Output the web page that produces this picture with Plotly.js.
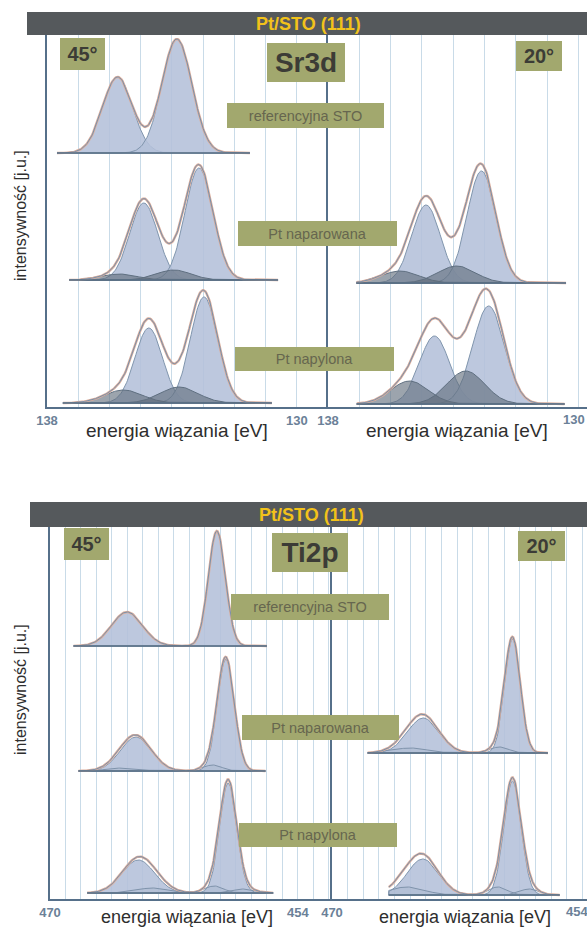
<!DOCTYPE html>
<html><head><meta charset="utf-8">
<script src="https://cdn.plot.ly/plotly-3.0.1.min.js"></script>
<style>html,body{margin:0;padding:0;background:#fff}#chart{width:587px;height:930px}</style>
</head><body><div id="chart"></div>
<script>
// ================= DATA =================
const headerText = 'Pt/STO (111)';
const panelNames = ['Sr3d', 'Ti2p'];
const angleLabels = ['45°', '20°'];
const sampleLabels = ['referencyjna STO', 'Pt naparowana', 'Pt napylona'];
const xTitleText = 'energia wiązania [eV]';
const yTitleText = 'intensywność [j.u.]';
const srTickLabels = [138, 130];
const tiTickLabels = [470, 454];

// Sr3d fitted components (centre eV, height a.u., sigma eV, kind M=main / m=minor), measured span
const srRef45Centre = [135.74, 133.84];
const srRef45Height = [76, 114];
const srRef45Sigma  = [0.48, 0.48];
const srRef45Kind   = ['M', 'M'];
const srRef45Span   = [137.7, 131.5];

const srNapar45Centre = [134.90, 133.13, 135.68, 133.94];
const srNapar45Height = [77, 112, 6, 10];
const srNapar45Sigma  = [0.45, 0.45, 0.55, 0.55];
const srNapar45Kind   = ['M', 'M', 'm', 'm'];
const srNapar45Span   = [137.3, 130.6];

const srNapar20Centre = [134.87, 133.10, 135.70, 133.89];
const srNapar20Height = [78, 112, 12, 17];
const srNapar20Sigma  = [0.46, 0.46, 0.6, 0.6];
const srNapar20Kind   = ['M', 'M', 'm', 'm'];
const srNapar20Span   = [137.1, 130.4];

const srNapyl45Centre = [134.74, 132.97, 135.55, 133.77];
const srNapyl45Height = [75, 106, 13, 16];
const srNapyl45Sigma  = [0.44, 0.44, 0.6, 0.6];
const srNapyl45Kind   = ['M', 'M', 'm', 'm'];
const srNapyl45Span   = [137.5, 130.8];

const srNapyl20Centre = [134.60, 132.87, 135.40, 133.60];
const srNapyl20Height = [68, 98, 23, 33];
const srNapyl20Sigma  = [0.48, 0.5, 0.6, 0.6];
const srNapyl20Kind   = ['M', 'M', 'm', 'm'];
const srNapyl20Span   = [137.1, 130.45];

// Ti2p fitted components
const tiRef45Centre = [465.03, 459.23];
const tiRef45Height = [34, 115];
const tiRef45Sigma  = [1.0, 0.55];
const tiRef45Kind   = ['M', 'M'];
const tiRef45Span   = [468.5, 456.0];

const tiNapar45Centre = [464.45, 458.65, 465.3, 459.5];
const tiNapar45Height = [34, 112, 3, 6];
const tiNapar45Sigma  = [1.0, 0.55, 1.0, 0.6];
const tiNapar45Kind   = ['M', 'M', 'm', 'm'];
const tiNapar45Span   = [468.2, 456.1];

const tiNapyl45Centre = [464.30, 458.50, 463.4, 459.4, 457.5];
const tiNapyl45Height = [33, 110, 5, 7, 4];
const tiNapyl45Sigma  = [1.05, 0.55, 1.0, 0.6, 0.7];
const tiNapyl45Kind   = ['M', 'M', 'm', 'm', 'm'];
const tiNapyl45Span   = [467.6, 455.6];

const tiNapar20Centre = [464.17, 458.46, 465.0, 459.3];
const tiNapar20Height = [35, 114, 5, 6];
const tiNapar20Sigma  = [1.0, 0.5, 1.1, 0.6];
const tiNapar20Kind   = ['M', 'M', 'm', 'm'];
const tiNapar20Span   = [467.76, 456.2];

const tiNapyl20Centre = [464.20, 458.46, 465.2, 459.4, 457.4];
const tiNapyl20Height = [36, 114, 8, 8, 6];
const tiNapyl20Sigma  = [1.0, 0.55, 1.1, 0.6, 0.6];
const tiNapyl20Kind   = ['M', 'M', 'm', 'm', 'm'];
const tiNapyl20Span   = [466.4, 455.45];

// ================= LAYOUT CONSTANTS =================
const W = 587, H = 930;
const px = v => v / W;
const py = v => 1 - v / H;
const FONT = 'Liberation Sans, Arial, sans-serif';

const COL = {
  header: '#55595c', headerText: '#f2c21a', axis: '#56708a', grid: '#c9dbe8',
  tick: '#6b8198', box: '#a2a86e', boxDark: '#3c3c36', boxLight: '#66664f',
  mainFill: 'rgba(180,192,218,0.88)', mainEdge: '#8095ad',
  srMinorFill: 'rgba(96,108,122,0.62)', srMinorEdge: '#5f6f80',
  tiMinorFill: 'rgba(150,166,190,0.25)', tiMinorEdge: '#7f93ab',
  env: '#dcae9c', data: '#7890aa', base: '#5a7086'
};

const spectra = [
  {xa:'x',  ya:'y',  off:254, c:srRef45Centre,   h:srRef45Height,   s:srRef45Sigma,   k:srRef45Kind,   span:srRef45Span,   step:0.03, el:'sr'},
  {xa:'x',  ya:'y',  off:127, c:srNapar45Centre, h:srNapar45Height, s:srNapar45Sigma, k:srNapar45Kind, span:srNapar45Span, step:0.03, el:'sr'},
  {xa:'x',  ya:'y',  off:4,   c:srNapyl45Centre, h:srNapyl45Height, s:srNapyl45Sigma, k:srNapyl45Kind, span:srNapyl45Span, step:0.03, el:'sr'},
  {xa:'x2', ya:'y2', off:124, c:srNapar20Centre, h:srNapar20Height, s:srNapar20Sigma, k:srNapar20Kind, span:srNapar20Span, step:0.03, el:'sr'},
  {xa:'x2', ya:'y2', off:3,   c:srNapyl20Centre, h:srNapyl20Height, s:srNapyl20Sigma, k:srNapyl20Kind, span:srNapyl20Span, step:0.03, el:'sr'},
  {xa:'x3', ya:'y3', off:253, c:tiRef45Centre,   h:tiRef45Height,   s:tiRef45Sigma,   k:tiRef45Kind,   span:tiRef45Span,   step:0.06, el:'ti'},
  {xa:'x3', ya:'y3', off:128, c:tiNapar45Centre, h:tiNapar45Height, s:tiNapar45Sigma, k:tiNapar45Kind, span:tiNapar45Span, step:0.06, el:'ti'},
  {xa:'x3', ya:'y3', off:6,   c:tiNapyl45Centre, h:tiNapyl45Height, s:tiNapyl45Sigma, k:tiNapyl45Kind, span:tiNapyl45Span, step:0.06, el:'ti'},
  {xa:'x4', ya:'y4', off:146, c:tiNapar20Centre, h:tiNapar20Height, s:tiNapar20Sigma, k:tiNapar20Kind, span:tiNapar20Span, step:0.06, el:'ti'},
  {xa:'x4', ya:'y4', off:4,   c:tiNapyl20Centre, h:tiNapyl20Height, s:tiNapyl20Sigma, k:tiNapyl20Kind, span:tiNapyl20Span, step:0.06, el:'ti'}
];

function peak(c, h, s, e) { const d = (e - c) / s; return h * Math.exp(-0.5 * d * d); }

const traces = [];
spectra.forEach(sp => {
  const E = [];
  for (let e = sp.span[1]; e <= sp.span[0] + 1e-9; e += sp.step) E.push(+e.toFixed(3));
  const base = E.map(() => sp.off);
  const comps = sp.c.map((c, i) => E.map(e => peak(c, sp.h[i], sp.s[i], e)));
  const order = sp.k.map((k, i) => i).sort((a, b) => (sp.k[a] === 'M' ? 0 : 1) - (sp.k[b] === 'M' ? 0 : 1));
  order.forEach(i => {
    const main = sp.k[i] === 'M';
    const minorFill = sp.el === 'sr' ? COL.srMinorFill : COL.tiMinorFill;
    const minorEdge = sp.el === 'sr' ? COL.srMinorEdge : COL.tiMinorEdge;
    traces.push({
      type: 'scatter', mode: 'lines', xaxis: sp.xa, yaxis: sp.ya, hoverinfo: 'skip', showlegend: false,
      x: E.concat(E.slice().reverse()),
      y: comps[i].map(v => v + sp.off).concat(base),
      fill: 'toself', fillcolor: main ? COL.mainFill : minorFill,
      line: {color: main ? COL.mainEdge : minorEdge, width: 1}
    });
  });
  const env = E.map((e, j) => sp.off + comps.reduce((a, cc) => a + cc[j], 0));
  traces.push({type:'scatter', mode:'lines', xaxis:sp.xa, yaxis:sp.ya, hoverinfo:'skip', showlegend:false,
    x:E, y:env, line:{color:COL.env, width:2.4}});
  traces.push({type:'scatter', mode:'lines', xaxis:sp.xa, yaxis:sp.ya, hoverinfo:'skip', showlegend:false,
    x:E, y:env, line:{color:COL.data, width:1}});
  traces.push({type:'scatter', mode:'lines', xaxis:sp.xa, yaxis:sp.ya, hoverinfo:'skip', showlegend:false,
    x:[E[0], E[E.length-1]], y:[sp.off, sp.off], line:{color:COL.base, width:1.6}});
});

// ================= AXES =================
const TICKFONT = {family: FONT, size: 13, color: COL.tick, weight: 'bold'};
function gridVals(hi, lo) { const v = []; for (let t = hi; t >= lo; t--) v.push(t); return v; }
// labelled: values whose label is drawn as a normal tick label
function xAxis(domPx, range, labelled, anchor) {
  const vals = gridVals(Math.floor(range[0]), Math.ceil(range[1]));
  return {
    domain: [px(domPx[0]), px(domPx[1])], range: range, anchor: anchor,
    tickmode: 'array', tickvals: vals, ticktext: vals.map(v => labelled.includes(v) ? String(v) : ''),
    showgrid: true, gridcolor: COL.grid, gridwidth: 1, zeroline: false,
    showline: true, linecolor: COL.axis, linewidth: 2, ticks: '', fixedrange: true,
    tickfont: TICKFONT
  };
}
function yAxis(domPx, anchor) {
  return {
    domain: [py(domPx[1]), py(domPx[0])], range: [0, 372], anchor: anchor,
    showline: true, linecolor: COL.axis, linewidth: 2, showgrid: false, zeroline: false,
    showticklabels: false, ticks: '', fixedrange: true
  };
}

const topPx = [35, 407], botPx = [527, 899];

const layout = {
  width: W, height: H, margin: {l:0, r:0, t:0, b:0},
  paper_bgcolor: '#ffffff', plot_bgcolor: 'rgba(0,0,0,0)', showlegend: false,
  font: {family: FONT},
  xaxis:  xAxis([47, 328],  [138, 129],    srTickLabels, 'y'),
  xaxis2: xAxis([328, 587], [138, 129.73], [srTickLabels[0]], 'y2'),
  xaxis3: xAxis([50, 332],  [470, 451.8],  tiTickLabels, 'y3'),
  xaxis4: xAxis([332, 587], [470, 453.7],  [tiTickLabels[0]], 'y4'),
  yaxis:  yAxis(topPx, 'x'),
  yaxis2: yAxis(topPx, 'x2'),
  yaxis3: yAxis(botPx, 'x3'),
  yaxis4: yAxis(botPx, 'x4'),
  shapes: [
    {type:'rect', xref:'paper', yref:'paper', x0:px(27), x1:1, y0:py(35), y1:py(12), fillcolor:COL.header, line:{width:0}, layer:'above'},
    {type:'rect', xref:'paper', yref:'paper', x0:px(30), x1:1, y0:py(527), y1:py(502), fillcolor:COL.header, line:{width:0}, layer:'above'}
  ],
  annotations: []
};

const A = layout.annotations;
// right-end labels of the right-hand axes, pulled just inside the page edge
A.push({xref:'x2', yref:'paper', x:srTickLabels[1], y:py(407), yanchor:'top', xanchor:'center', xshift:-5, yshift:-3,
  showarrow:false, text:String(srTickLabels[1]), font:TICKFONT});
A.push({xref:'x4', yref:'paper', x:tiTickLabels[1], y:py(899), yanchor:'top', xanchor:'center', xshift:-5, yshift:-3,
  showarrow:false, text:String(tiTickLabels[1]), font:TICKFONT});

function txt(text, x, y, size, color, weight, angle) {
  A.push({xref:'paper', yref:'paper', x:px(x), y:py(y), xanchor:'center', yanchor:'middle',
    showarrow:false, text:text, textangle: angle || 0,
    font:{family:FONT, size:size, color:color, weight: weight || 'normal'}});
}
function box(text, x0, y0, x1, y1, size, color, weight) {
  A.push({xref:'paper', yref:'paper', x:px(x0), y:py(y0), xanchor:'left', yanchor:'top',
    width:x1 - x0, height:y1 - y0, bgcolor:COL.box, borderpad:0, borderwidth:0, showarrow:false,
    align:'center', valign:'middle', text:text,
    font:{family:FONT, size:size, color:color, weight:weight}});
}

// headers
txt(headerText, 308, 23.5, 18, COL.headerText, 'bold');
txt(headerText, 311, 514.5, 18, COL.headerText, 'bold');

// top panel boxes
box(angleLabels[0], 60, 38, 105, 70, 20, COL.boxDark, 'bold');
box(panelNames[0], 267, 43, 345, 82, 28, COL.boxDark, 'bold');
box(angleLabels[1], 516, 41, 562, 71, 20, COL.boxDark, 'bold');
box(sampleLabels[0], 227, 103, 384, 128, 14.5, COL.boxLight, 'normal');
box(sampleLabels[1], 238, 221, 397, 246, 14.5, COL.boxLight, 'normal');
box(sampleLabels[2], 235, 347, 394, 371, 14.5, COL.boxLight, 'normal');
// bottom panel boxes
box(angleLabels[0], 64, 528, 109, 560, 20, COL.boxDark, 'bold');
box(panelNames[1], 272, 533, 348, 572, 28, COL.boxDark, 'bold');
box(angleLabels[1], 518, 531, 565, 561, 20, COL.boxDark, 'bold');
box(sampleLabels[0], 231, 594, 389, 620, 14.5, COL.boxLight, 'normal');
box(sampleLabels[1], 242, 715, 399, 740, 14.5, COL.boxLight, 'normal');
box(sampleLabels[2], 239, 823, 397, 847, 14.5, COL.boxLight, 'normal');

// axis titles
txt(xTitleText, 177, 431, 19, '#2e2e2e');
txt(xTitleText, 457, 431, 19, '#2e2e2e');
txt(xTitleText, 187, 917, 18, '#2e2e2e');
txt(xTitleText, 465, 917, 18, '#2e2e2e');
txt(yTitleText, 20, 216, 16, '#2e2e2e', 'normal', -90);
txt(yTitleText, 20, 690, 16, '#2e2e2e', 'normal', -90);

Plotly.newPlot('chart', traces, layout, {staticPlot:true, displayModeBar:false});
</script>
</body></html>
